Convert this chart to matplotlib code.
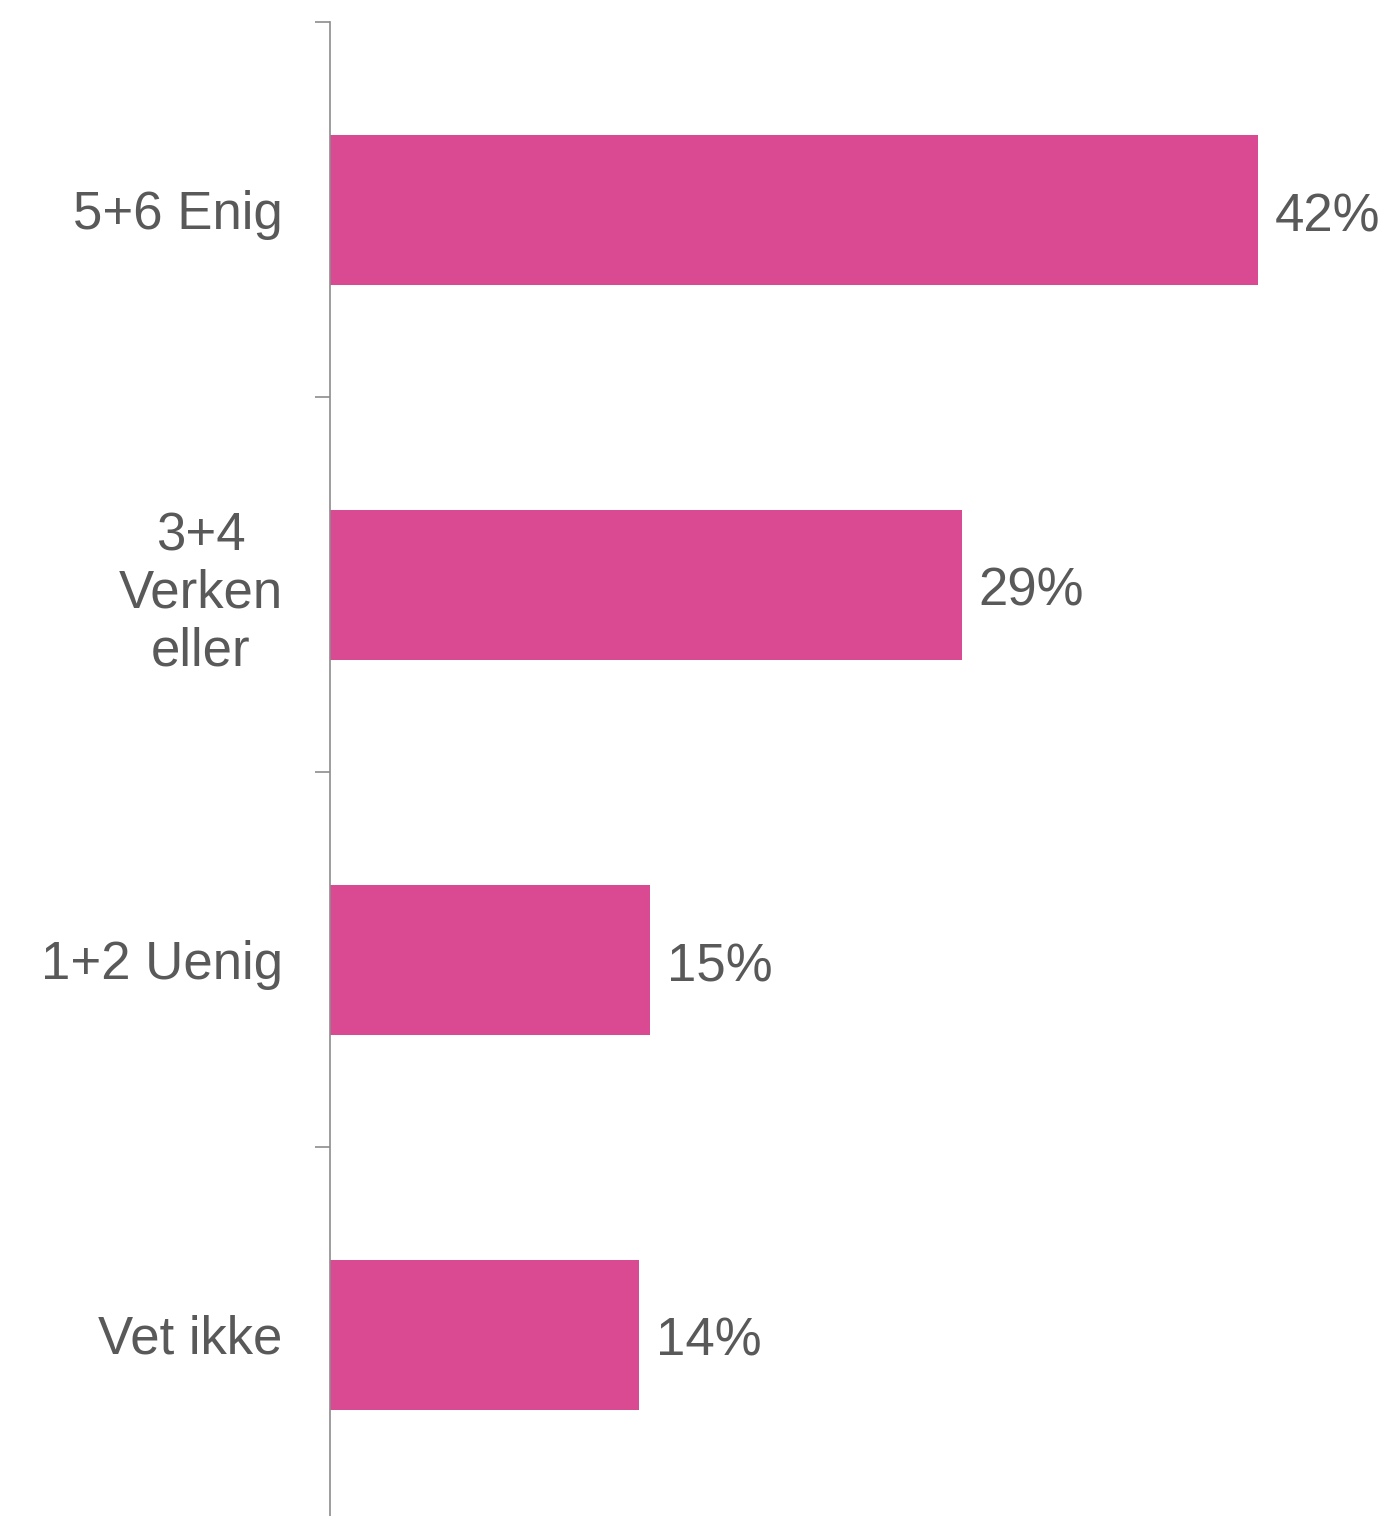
import matplotlib.pyplot as plt
import numpy as np

# données
categories = ["5+6 Enig", "3+4\nVerken\neller", "1+2 Uenig", "Vet ikke"]
values = [42.0, 28.6, 14.5, 14.0]
value_labels = ["42%", "29%", "15%", "14%"]

BAR_COLOR = "#D94A93"
TEXT_COLOR = "#595959"
AXIS_COLOR = "#8C8C8C"

plt.rcParams["font.family"] = ["Liberation Sans", "DejaVu Sans"]

fig = plt.figure(figsize=(13.88, 15.16), dpi=100)
# l'axe déborde un peu sous le bas de la figure
ax = fig.add_axes([330 / 1388, -6 / 1516, 1 - 330 / 1388, 1500 / 1516])

y = np.arange(len(categories))
ax.barh(y, values, height=0.4, color=BAR_COLOR)

for yi, v, lab in zip(y, values, value_labels):
    ax.text(v + 0.75, yi + 0.02, lab, va="center", ha="left",
            fontsize=38, color=TEXT_COLOR)

ax.set_ylim(len(categories) - 0.5, -0.5)
ax.set_xlim(0, 1058 / 22.1)

ax.set_yticks(y)
ax.set_yticklabels(categories, fontsize=38, color=TEXT_COLOR,
                   linespacing=1.2, multialignment="center")
ax.tick_params(axis="y", which="major", length=0, pad=34)
ax.set_yticks(np.arange(-0.5, len(categories) - 0.5, 1.0), minor=True)
ax.tick_params(axis="y", which="minor", length=11, width=1.2, color=AXIS_COLOR)

ax.set_xticks([])
for side in ["top", "right", "bottom"]:
    ax.spines[side].set_visible(False)
ax.spines["left"].set_color(AXIS_COLOR)
ax.spines["left"].set_linewidth(1.2)

plt.savefig("out.png", dpi=100)
